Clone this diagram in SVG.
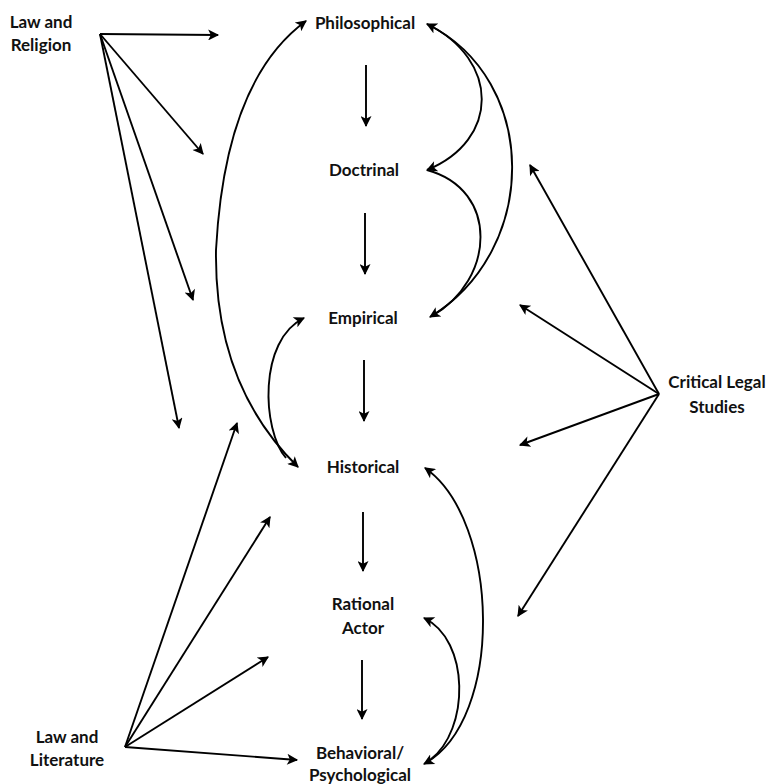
<svg xmlns="http://www.w3.org/2000/svg" width="768" height="784" viewBox="0 0 768 784">
<defs>
<marker id="ah" viewBox="0 0 10 10" markerWidth="13" markerHeight="11" markerUnits="userSpaceOnUse" refX="9" refY="5" orient="auto-start-reverse">
<path d="M0,0 L10,5 L0,10 L2.5,5 z" fill="#000"/>
</marker>
<style>
text{font-family:Lato,"Liberation Sans",sans-serif;font-weight:bold;font-size:17px;fill:#111;text-anchor:middle}
.c{fill:none;stroke:#000;stroke-width:1.9}
.a{marker-end:url(#ah)}
.b{marker-start:url(#ah);marker-end:url(#ah)}
.s{marker-start:url(#ah)}
</style>
</defs>
<rect width="768" height="784" fill="#fff"/>
<g id="law-religion"><text x="41" y="28">Law and</text><text x="41" y="51">Religion</text></g>
<g id="philosophical"><text x="365" y="29">Philosophical</text></g>
<g id="doctrinal"><text x="364" y="176">Doctrinal</text></g>
<g id="empirical"><text x="363" y="324">Empirical</text></g>
<g id="historical"><text x="363" y="473">Historical</text></g>
<g id="rational-actor"><text x="363" y="610">Rational</text><text x="363" y="634">Actor</text></g>
<g id="behavioral"><text x="360" y="759">Behavioral/</text><text x="360" y="781">Psychological</text></g>
<g id="critical-legal"><text x="717" y="388">Critical Legal</text><text x="717" y="413">Studies</text></g>
<g id="law-literature"><text x="67" y="743">Law and</text><text x="67" y="766">Literature</text></g>
<g id="connectors">
<path class="c a" d="M100,34 L218,35"/>
<path class="c a" d="M100,34 L203,154"/>
<path class="c a" d="M100,34 L193,300"/>
<path class="c a" d="M100,34 L179,428"/>
<path class="c a" d="M125,747 L237,423"/>
<path class="c a" d="M125,747 L270,517"/>
<path class="c a" d="M125,747 L268,657"/>
<path class="c a" d="M125,747 L297,760"/>
<path class="c a" d="M659,394 L530,165"/>
<path class="c a" d="M659,394 L520,305"/>
<path class="c a" d="M659,394 L520,445"/>
<path class="c a" d="M659,394 L518,616"/>
<path class="c a" d="M366,65 L366,126"/>
<path class="c a" d="M365,213 L365,274"/>
<path class="c a" d="M364,360 L364,421"/>
<path class="c a" d="M363,512 L363,571"/>
<path class="c a" d="M362,660 L362,719"/>
<path class="c b" d="M306,21 Q225,80 216,250 Q214,385 298,467"/>
<path class="c a" d="M286,458 C262,430 258,340 304,318"/>
<path class="c b" d="M427,24 C540,80 540,250 430,317"/>
<path class="c a" d="M427,24 C500,60 500,140 427,170"/>
<path class="c" d="M427,170 C500,190 495,280 432,316"/>
<path class="c b" d="M425,468 C500,520 505,720 424,764"/>
<path class="c s" d="M424,618 C470,640 470,730 430,760"/>
</g>
</svg>
